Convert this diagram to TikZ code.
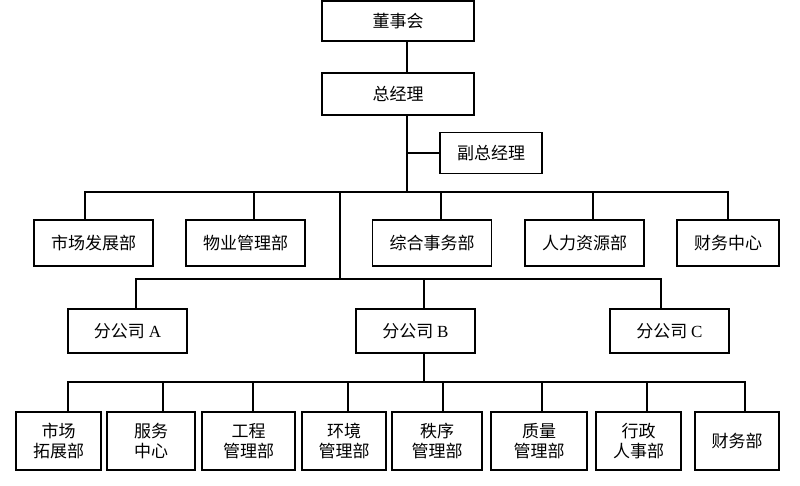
\documentclass[tikz,border=0pt]{standalone}
\usepackage{fontspec}
\setmainfont{Liberation Serif}
\newfontfamily\cjk{Noto Sans CJK SC}
\usetikzlibrary{positioning}

\begin{document}
\begin{tikzpicture}[
        x=1pt, y=-1pt,
        unit/.style={rectangle, draw, line width=1.2pt, inner sep=0pt, align=center, font=\cjk\fontsize{17}{20}\selectfont},
        headbox/.style={unit, minimum width=152pt, minimum height=42pt},
        dept/.style={unit, minimum width=119pt, minimum height=46pt},
        branch/.style={unit, minimum width=119pt, minimum height=44pt},
        subbox/.style={unit, minimum height=58pt},
        link/.style={line width=1.2pt}
    ]
        \useasboundingbox (0,0) rectangle (800,485);

        % Top management
        \node[headbox, minimum height=40pt] (dsh) at (398,21) {董事会};
        \node[headbox] (zjl) at (398,94) {总经理};
        \node[unit, minimum width=102pt, minimum height=41pt] (fzjl) at (491,153) {副总经理};

        % Departments
        \node[dept] (scfz) at (93.5,243) {市场发展部};
        \node[dept] (wygl) at (245.5,243) {物业管理部};
        \node[dept] (zhsw) at (432,243) {综合事务部};
        \node[dept] (rlzy) at (584.5,243) {人力资源部};
        \node[dept, minimum width=102pt] (cwzx) at (728,243) {财务中心};

        % Branches
        \node[branch] (fgsA) at (127.5,331) {分公司 {\rmfamily A}};
        \node[branch] (fgsB) at (415.5,331) {分公司 {\rmfamily B}};
        \node[branch] (fgsC) at (669.5,331) {分公司 {\rmfamily C}};

        % Units of branch B
        \node[subbox, minimum width=85pt] (sctz) at (58.5,441) {市场\\拓展部};
        \node[subbox, minimum width=88pt] (fwzx) at (151,441) {服务\\中心};
        \node[subbox, minimum width=93pt] (gcgl) at (248.5,441) {工程\\管理部};
        \node[subbox, minimum width=84pt] (hjgl) at (344,441) {环境\\管理部};
        \node[subbox, minimum width=90pt] (zxgl) at (437,441) {秩序\\管理部};
        \node[subbox, minimum width=96pt] (zlgl) at (539,441) {质量\\管理部};
        \node[subbox, minimum width=85pt] (xzrs) at (638.5,441) {行政\\人事部};
        \node[subbox, minimum width=84pt] (cwb) at (737,441) {财务部};

        \coordinate (hub) at (407,192);
        \coordinate (fork) at (340,192);
        \coordinate (fork2) at (340,279);
        \coordinate (hub3) at (424,382);

        \draw[link] (dsh.south -| hub) -- (zjl.north -| hub);
        \draw[link] (zjl.south -| hub) -- (hub);
        \draw[link] (fzjl) -- (fzjl.west -| hub);
        \foreach \d/\dx in {scfz/-8.5, wygl/8.5, zhsw/9, rlzy/8.5, cwzx/0}
            \draw[link] (hub) -| ([xshift=\dx pt]\d.north);

        \draw[link] (fork) -- (fork2);
        \foreach \b/\dx in {fgsA/8.5, fgsB/8.5, fgsC/-8.5}
            \draw[link] (fork2) -| ([xshift=\dx pt]\b.north);

        \draw[link] (fgsB.south -| hub3) -- (hub3);
        \foreach \s/\dx in {sctz/9.5, fwzx/12, gcgl/4.5, hjgl/4, zxgl/6, zlgl/3, xzrs/8.5, cwb/8}
            \draw[link] (hub3) -| ([xshift=\dx pt]\s.north);
    \end{tikzpicture}
\end{document}
